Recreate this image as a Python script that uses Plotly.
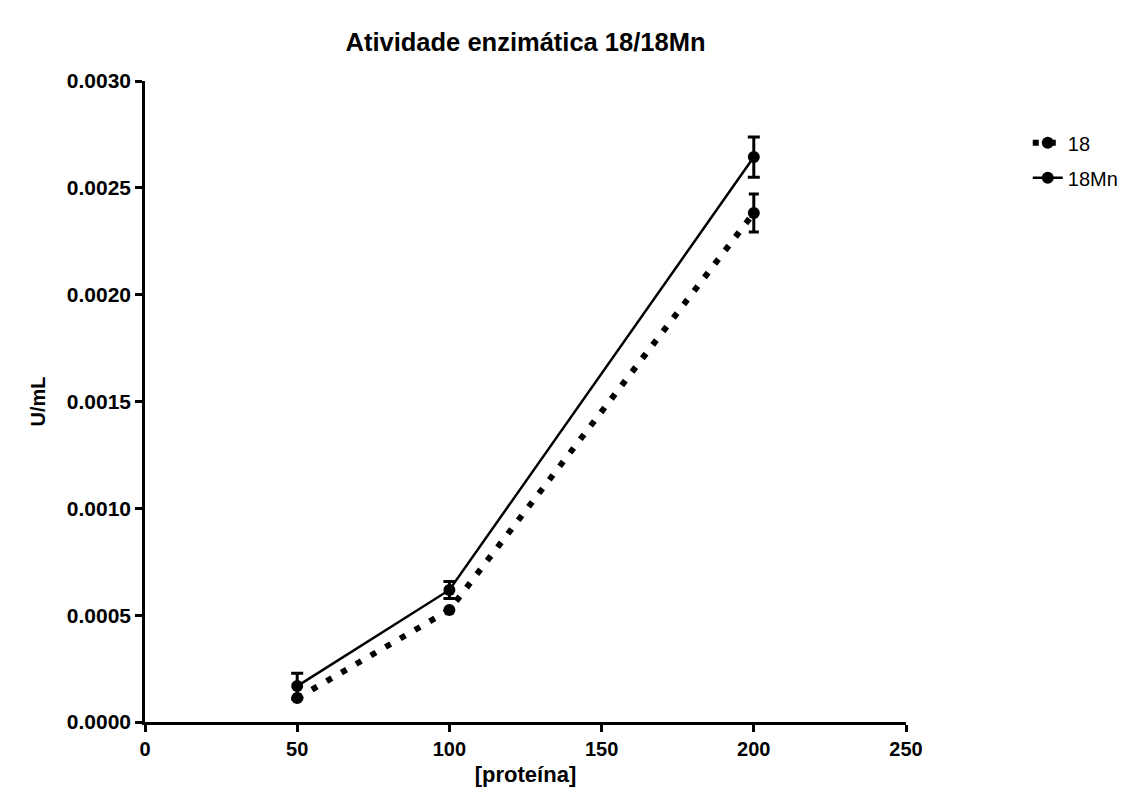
import plotly.graph_objects as go

x = [50, 100, 200]
y18 = [0.000112, 0.000524, 0.002382]
e18 = [0.0, 0.0, 0.000089]
y18mn = [0.000168, 0.000618, 0.002644]
e18mn = [0.00006, 0.00004, 0.000094]

xticks = [0, 50, 100, 150, 200, 250]
yticks = [0, 0.0005, 0.001, 0.0015, 0.002, 0.0025, 0.003]

font = "Liberation Sans, Arial, sans-serif"

fig = go.Figure()
fig.add_trace(go.Scatter(
    x=x, y=y18, name="18", mode="lines+markers", legendgroup="a",
    line=dict(color="black", width=6, dash="6px,11px"),
    marker=dict(symbol="circle", size=12, color="black"),
    error_y=dict(type="data", array=e18, color="black", thickness=3, width=5),
))
fig.add_trace(go.Scatter(
    x=x, y=y18mn, name="18Mn", mode="lines+markers", legendgroup="b",
    line=dict(color="black", width=2.5),
    marker=dict(symbol="circle", size=12, color="black"),
    error_y=dict(type="data", array=e18mn, color="black", thickness=3, width=6),
))

fig.update_layout(
    width=1131, height=787,
    paper_bgcolor="white", plot_bgcolor="white",
    margin=dict(l=145, r=225, t=81, b=65, autoexpand=False),
    title=dict(text="<b>Atividade enzimática 18/18Mn</b>", x=(145 + 906) / 2 / 1131, xanchor="center",
               y=1 - 42 / 787, yanchor="middle", font=dict(family=font, size=25.5, color="black")),
    font=dict(family=font, color="black"),
    legend=dict(x=1.16, y=0.934, xanchor="left", yanchor="top", font=dict(size=20, color="black"),
                bgcolor="rgba(0,0,0,0)", tracegroupgap=6),
    showlegend=True,
)
fig.update_xaxes(
    range=[0, 250], tickvals=xticks, ticks="outside", ticklen=7, tickwidth=2.5,
    tickcolor="black", showline=True, linecolor="black", linewidth=2.5, showgrid=False, zeroline=False,
    tickfont=dict(family=font, size=20, color="black", weight="bold"),
    title=dict(text="<b>[proteína]</b>", font=dict(family=font, size=22, color="black"), standoff=10),
)
fig.update_yaxes(
    range=[0, 0.003], tickvals=yticks, tickformat=".4f",
    ticks="outside", ticklen=7, tickwidth=2.5, tickcolor="black", showline=True, linecolor="black",
    linewidth=2.5, showgrid=False, zeroline=False,
    tickfont=dict(family=font, size=21, color="black", weight="bold"),
    title=dict(text="<b>U/mL</b>", font=dict(family=font, size=20, color="black"), standoff=16),
)

fig.write_html("out.html")
